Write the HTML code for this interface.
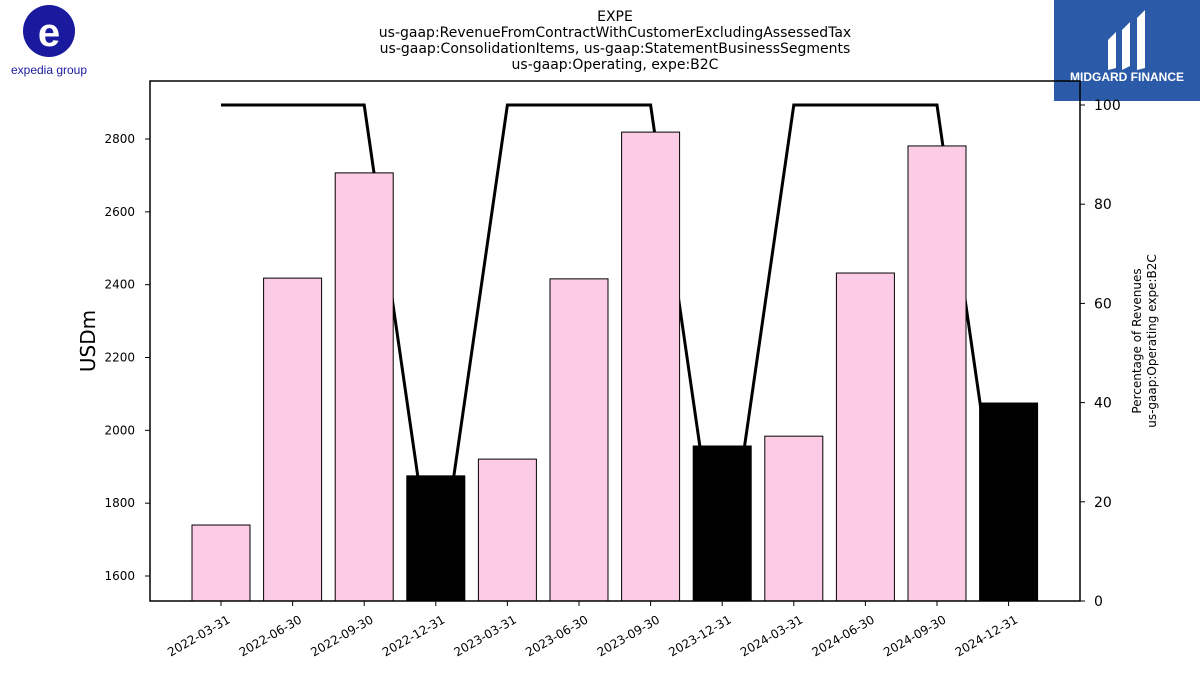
<!DOCTYPE html>
<html><head><meta charset="utf-8"><style>
body{margin:0;background:#fff;font-family:"Liberation Sans","DejaVu Sans",sans-serif}
</style></head><body>
<svg id="c" width="1200" height="675" xmlns="http://www.w3.org/2000/svg" font-family="DejaVu Sans, Liberation Sans, sans-serif">
<g font-size="14" text-anchor="middle" fill="#000">
<text x="615" y="21">EXPE</text>
<text x="615" y="37">us-gaap:RevenueFromContractWithCustomerExcludingAssessedTax</text>
<text x="615" y="53">us-gaap:ConsolidationItems, us-gaap:StatementBusinessSegments</text>
<text x="615" y="69">us-gaap:Operating, expe:B2C</text>
</g>
<g>
<circle cx="49" cy="31" r="26" fill="#1a1a9e"/>
<text x="49" y="46" font-size="40" font-weight="bold" fill="#fff" text-anchor="middle" font-family="Liberation Sans">e</text>
<text x="49" y="74" font-size="12" fill="#1a1a9e" text-anchor="middle" font-family="Liberation Sans">expedia group</text>
</g>
<g>
<rect x="1054" y="0" width="146" height="101" fill="#2b5aa8"/>
<path d="M1108 40 l8 -8 v36 l-8 2z M1122 30 l8 -8 v44 l-8 4z M1137 18 l8 -8 v58 l-8 2z" fill="#fff"/>
<text x="1127" y="81" font-size="12" font-weight="bold" fill="#fff" text-anchor="middle" font-family="Liberation Sans">MIDGARD FINANCE</text>
</g>
<g id="plot"></g>
<rect x="150" y="81" width="930" height="520" fill="none" stroke="#000" stroke-width="1.5"/>
<text transform="translate(95,341) rotate(-90)" font-size="20" text-anchor="middle">USDm</text>
<g font-size="12" text-anchor="middle">
<text transform="translate(1141,341) rotate(-90)">Percentage of Revenues</text>
<text transform="translate(1156,341) rotate(-90)">us-gaap:Operating expe:B2C</text>
</g>
</svg>
<script>
const categories=["2022-03-31","2022-06-30","2022-09-30","2022-12-31","2023-03-31","2023-06-30","2023-09-30","2023-12-31","2024-03-31","2024-06-30","2024-09-30","2024-12-31"];
const revenues=[1740,2418,2707,1875,1921,2416,2819,1957,1984,2432,2781,2075];
const percentages=[100,100,100,0,100,100,100,0,100,100,100,0];
const yTicks=[1600,1800,2000,2200,2400,2600,2800];
const y2Ticks=[0,20,40,60,80,100];
const NS="http://www.w3.org/2000/svg";
const g=document.getElementById('plot');
const x=i=>221+i*71.6;
const y=v=>576-(v-1600)*72.83/200;
const y2=p=>601-p*4.96;
function el(t,a){const e=document.createElementNS(NS,t);for(const k in a)e.setAttribute(k,a[k]);g.appendChild(e);return e;}
// line (behind bars)
const ln=el('polyline',{points:percentages.map((p,i)=>x(i)+','+y2(p)).join(' '),fill:'none',stroke:'#000','stroke-width':3});


revenues.forEach((v,i)=>{
 const q4=categories[i].endsWith('12-31');
 const r=el('rect',{x:x(i)-29,y:y(v),width:58,height:601-y(v),fill:q4?'#000':'#fccbe5',stroke:'#000','stroke-width':1});
 
 
 el('line',{x1:x(i),x2:x(i),y1:601,y2:606,stroke:'#000'});
 const t=el('text',{x:x(i)+10,y:622,'font-size':12,'text-anchor':'end',transform:`rotate(-30 ${x(i)+10} 622)`});
 t.textContent=categories[i];
 
 
});
yTicks.forEach(v=>{
 el('line',{x1:145,x2:150,y1:y(v),y2:y(v),stroke:'#000'});
 const t=el('text',{x:135,y:y(v)+4,'font-size':12,'text-anchor':'end'});
 t.textContent=v;
 
 
});
y2Ticks.forEach(v=>{
 el('line',{x1:1080,x2:1085,y1:y2(v),y2:y2(v),stroke:'#000'});
 const t=el('text',{x:1094,y:y2(v)+5,'font-size':14});
 t.textContent=v;
 
 
});
</script>
</body></html>
